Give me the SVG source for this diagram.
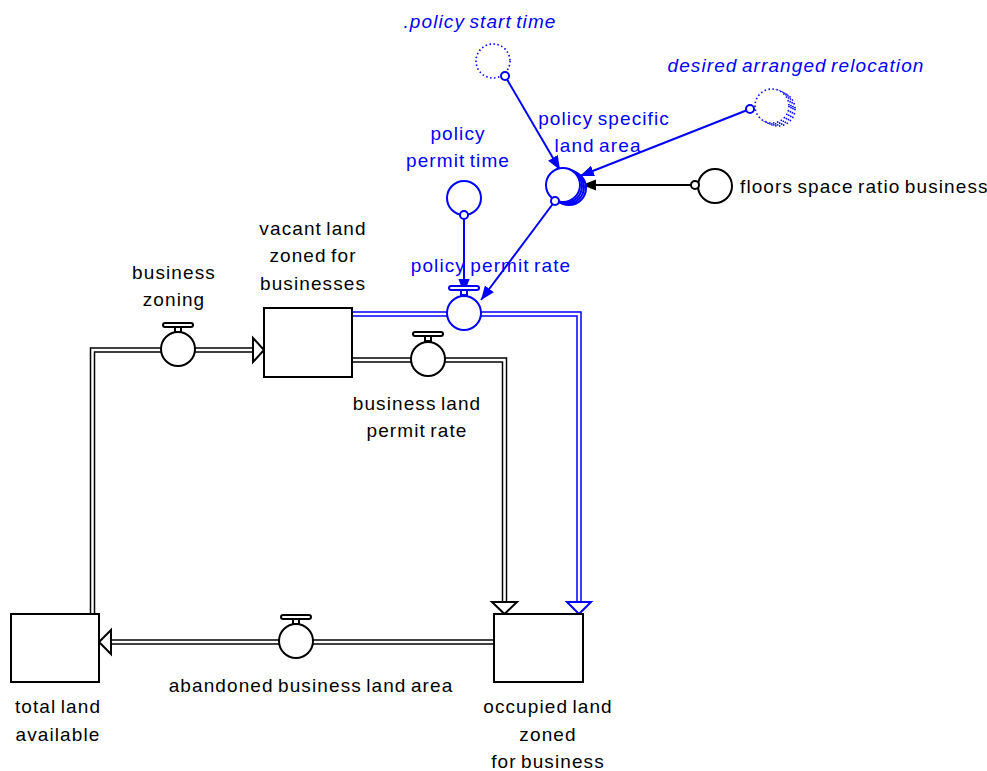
<svg xmlns="http://www.w3.org/2000/svg" width="987" height="771" viewBox="0 0 987 771">
  <defs>
    <marker id="ahBlue" viewBox="0 0 10 10" refX="10" refY="5" markerWidth="14" markerHeight="14" markerUnits="userSpaceOnUse" orient="auto">
      <path d="M0,1 L10,5 L0,9 Z" fill="#0000ff"/>
    </marker>
    <marker id="ahBlack" viewBox="0 0 10 10" refX="10" refY="5" markerWidth="14" markerHeight="14" markerUnits="userSpaceOnUse" orient="auto">
      <path d="M0,1 L10,5 L0,9 Z" fill="#000"/>
    </marker>
  </defs>
  <style>
    text { font-family: "Liberation Sans", Arial, sans-serif; font-size: 19px; letter-spacing: 1.1px; word-spacing: -2px; text-anchor: middle; }
    .blk { fill: #000; }
    .blu { fill: #0000ff; }
    .it { font-style: italic; }
    .stock { fill: #fff; stroke: #000; stroke-width: 2; }
    .pipeO { fill: none; stroke: #000; stroke-width: 5.5; }
    .pipeOb { fill: none; stroke: #0000ff; stroke-width: 5.5; }
    .pipeI { fill: none; stroke: #fff; stroke-width: 2.5; }
    .head { fill: #fff; stroke: #000; stroke-width: 2; stroke-linejoin: miter; }
    .headb { fill: #fff; stroke: #0000ff; stroke-width: 2; }
    .valve { fill: #fff; stroke: #000; stroke-width: 2; }
    .valveb { fill: #fff; stroke: #0000ff; stroke-width: 2; }
    .aux { fill: #fff; stroke: #000; stroke-width: 2; }
    .auxb { fill: #fff; stroke: #0000ff; stroke-width: 2; }
    .ghost { fill: #fff; stroke: #0000ff; stroke-width: 1.6; stroke-dasharray: 1.5 2.5; }
    .lnk { fill: none; stroke: #0000ff; stroke-width: 2; }
    .lnkk { fill: none; stroke: #000; stroke-width: 2; }
    .orig { fill: #fff; stroke: #0000ff; stroke-width: 2; }
    .origk { fill: #fff; stroke: #000; stroke-width: 2; }
  </style>

  <!-- flow pipes -->
  <g id="connectors">
    <!-- business zoning: total land -> vacant land -->
    <path class="pipeO" d="M92.5,614 V350 H254"/>
    <path class="pipeI" d="M92.5,614 V350 H254"/>
    <polygon class="head" points="253,338 264,350 253,362"/>
    <!-- business land permit rate: vacant -> occupied -->
    <path class="pipeO" d="M352,360 H504.5 V603"/>
    <path class="pipeI" d="M352,360 H504.5 V603"/>
    <polygon class="head" points="492,602 517,602 504.5,614"/>
    <!-- policy permit rate: vacant -> occupied -->
    <path class="pipeOb" d="M352,314 H579 V603"/>
    <path class="pipeI" d="M352,314 H579 V603"/>
    <polygon class="headb" points="567,602 591,602 579,614"/>
    <!-- abandoned business land area: occupied -> total land -->
    <path class="pipeO" d="M494,642 H111"/>
    <path class="pipeI" d="M494,642 H111"/>
    <polygon class="head" points="111,630 99,642 111,654"/>

    <!-- information links -->
    <line class="lnk" x1="505" y1="76" x2="560" y2="170" marker-end="url(#ahBlue)"/>
    <line class="lnk" x1="750" y1="109" x2="580" y2="176" marker-end="url(#ahBlue)"/>
    <line class="lnkk" x1="695" y1="185" x2="582" y2="185" marker-end="url(#ahBlack)"/>
    <line class="lnk" x1="555" y1="201" x2="481" y2="300" marker-end="url(#ahBlue)"/>
    <line class="lnk" x1="464" y1="215" x2="464" y2="293" marker-end="url(#ahBlue)"/>
  </g>

  <!-- stocks -->
  <g id="vacant-land">
    <rect class="stock" x="264" y="308" width="88" height="69"/>
    <text class="blk" x="313" y="235">vacant land</text>
    <text class="blk" x="313" y="262">zoned for</text>
    <text class="blk" x="313" y="290">businesses</text>
  </g>
  <g id="total-land">
    <rect class="stock" x="11" y="614" width="88" height="68"/>
    <text class="blk" x="58" y="713">total land</text>
    <text class="blk" x="58" y="741">available</text>
  </g>
  <g id="occupied-land">
    <rect class="stock" x="494" y="614" width="89" height="68"/>
    <text class="blk" x="548" y="713">occupied land</text>
    <text class="blk" x="548" y="741">zoned</text>
    <text class="blk" x="548" y="768">for business</text>
  </g>

  <!-- flow valves -->
  <g id="business-zoning">
    <rect class="valve" x="163" y="323" width="30" height="4" rx="2"/>
    <rect class="valve" x="175" y="327" width="6" height="5"/>
    <circle class="valve" cx="178" cy="349" r="17"/>
    <text class="blk" x="174" y="279">business</text>
    <text class="blk" x="174" y="306">zoning</text>
  </g>
  <g id="business-land-permit-rate">
    <rect class="valve" x="413" y="332" width="30" height="4" rx="2"/>
    <rect class="valve" x="425" y="336" width="6" height="5"/>
    <circle class="valve" cx="428" cy="359" r="17"/>
    <text class="blk" x="417" y="410">business land</text>
    <text class="blk" x="417" y="437">permit rate</text>
  </g>
  <g id="policy-permit-rate">
    <rect class="valveb" x="449" y="286" width="30" height="4" rx="2"/>
    <rect class="valveb" x="461" y="290" width="6" height="5"/>
    <circle class="valveb" cx="464" cy="313" r="17"/>
    <text class="blu" x="491" y="272">policy permit rate</text>
  </g>
  <g id="abandoned-business-land-area">
    <rect class="valve" x="281" y="615" width="30" height="4" rx="2"/>
    <rect class="valve" x="293" y="619" width="6" height="5"/>
    <circle class="valve" cx="296" cy="641" r="17"/>
    <text class="blk" x="311" y="692">abandoned business land area</text>
  </g>

  <!-- auxiliaries -->
  <g id="policy-permit-time">
    <circle class="auxb" cx="464" cy="198" r="17"/>
    <circle class="orig" cx="464" cy="215" r="4"/>
    <text class="blu" x="458" y="140">policy</text>
    <text class="blu" x="458" y="167">permit time</text>
  </g>
  <g id="policy-specific-land-area">
    <circle class="auxb" cx="569" cy="188" r="17"/>
    <circle class="auxb" cx="567" cy="187" r="17"/>
    <circle class="auxb" cx="565" cy="186" r="17"/>
    <circle class="auxb" cx="563" cy="185" r="17"/>
    <circle class="orig" cx="555" cy="201" r="4"/>
    <text class="blu" x="604" y="125">policy specific</text>
    <text class="blu" x="598" y="152">land area</text>
  </g>
  <g id="floors-space-ratio-business">
    <circle class="aux" cx="715" cy="186" r="17"/>
    <circle class="origk" cx="695" cy="185" r="4"/>
    <text class="blk" x="740" y="193" style="text-anchor:start">floors space ratio business</text>
  </g>
  <g id="policy-start-time">
    <circle class="ghost" cx="493" cy="61" r="17"/>
    <circle class="orig" cx="505" cy="76" r="4"/>
    <text class="blu it" x="480" y="28">.policy start time</text>
  </g>
  <g id="desired-arranged-relocation">
    <circle class="ghost" cx="778" cy="109" r="17"/>
    <circle class="ghost" cx="776" cy="108" r="17"/>
    <circle class="ghost" cx="774" cy="107" r="17"/>
    <circle class="ghost" cx="772" cy="106" r="17"/>
    <circle class="orig" cx="750" cy="109" r="4"/>
    <text class="blu it" x="796" y="72">desired arranged relocation</text>
  </g>
</svg>
